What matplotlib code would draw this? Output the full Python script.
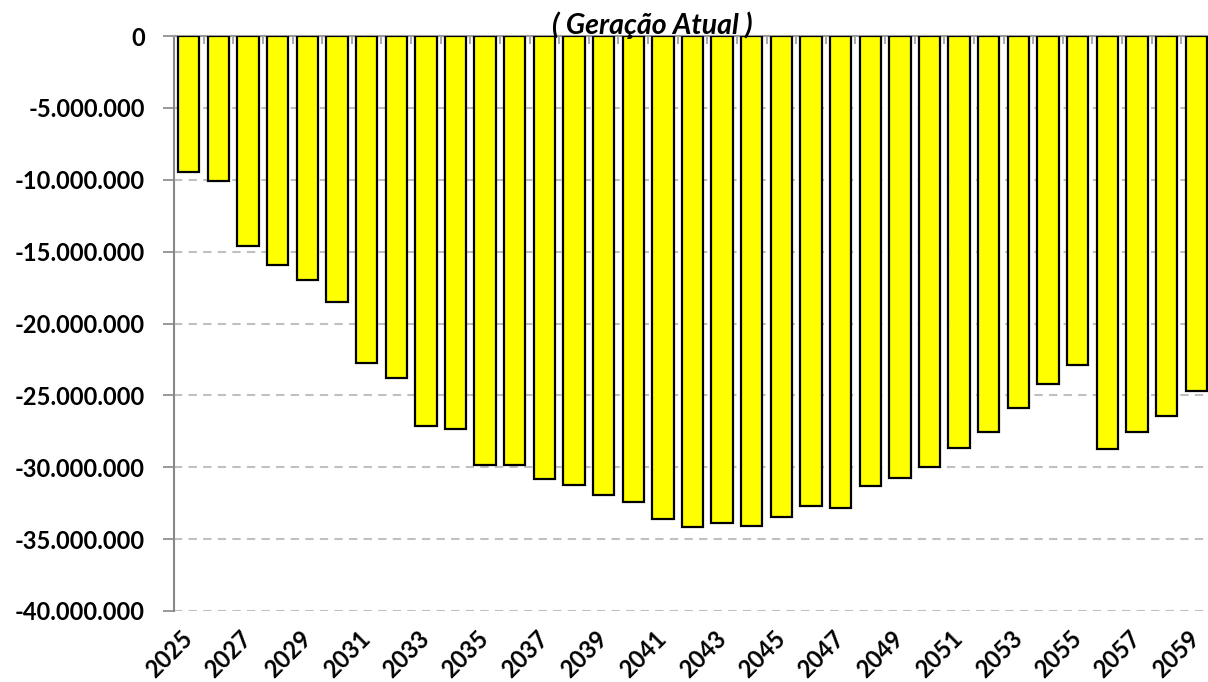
import matplotlib
matplotlib.use("Agg")
import matplotlib.pyplot as plt
from matplotlib.ticker import FuncFormatter, MultipleLocator, FixedLocator
import numpy as np

years = list(range(2025, 2060))
values = [-9.46e6, -10.06e6, -14.61e6, -15.95e6, -16.94e6, -18.47e6, -22.78e6,
          -23.82e6, -27.14e6, -27.32e6, -29.83e6, -29.83e6, -30.84e6, -31.24e6,
          -31.93e6, -32.44e6, -33.60e6, -34.13e6, -33.90e6, -34.09e6, -33.44e6,
          -32.67e6, -32.86e6, -31.31e6, -30.75e6, -29.96e6, -28.67e6, -27.55e6,
          -25.86e6, -24.22e6, -22.92e6, -28.74e6, -27.55e6, -26.42e6, -24.70e6]
title = "( Geração Atual )"

plt.rcParams['font.family'] = ['Lato', 'DejaVu Sans']

fig = plt.figure(figsize=(12.08, 6.82), dpi=100)
ax = fig.add_axes([174/1208, 1 - 611/682, (1211 - 174)/1208, (611 - 36)/682])

x = np.arange(len(years))
ax.bar(x, values, width=0.72, color='#FFFF00', edgecolor='black', linewidth=1.6, zorder=3)

ax.set_xlim(-0.5, len(years) - 0.5)
ax.set_ylim(-40e6, 0)

ax.yaxis.set_major_locator(MultipleLocator(5e6))
def fmt(v, pos):
    s = f"{abs(int(round(v))):,}".replace(",", ".")
    return ("-" if v < 0 else "") + s
ax.yaxis.set_major_formatter(FuncFormatter(fmt))
ax.tick_params(axis='y', labelsize=17, length=8, color='#888888', width=1.2, pad=13)
for lab in ax.get_yticklabels():
    lab.set_fontweight('bold')

ax.grid(axis='y', color='#C0C0C0', linestyle=(0, (4, 3)), linewidth=1.5, zorder=0)

ax.set_xticks(x[::2])
ax.set_xticklabels([str(y) for y in years[::2]], rotation=45, ha='right', va='center',
                   rotation_mode='anchor', fontsize=17, fontweight='bold')
ax.tick_params(axis='x', length=0, pad=17)

# category boundary ticks on the zero line
ax.xaxis.set_minor_locator(FixedLocator(np.arange(-0.5, len(years), 1)))
ax.tick_params(axis='x', which='minor', direction='in', length=6, color='#999999',
               width=1.2, top=True, bottom=False)

for s in ['right', 'bottom']:
    ax.spines[s].set_visible(False)
ax.spines['top'].set_color('#999999')
ax.spines['top'].set_linewidth(1.5)
ax.spines['left'].set_color('#888888')
ax.spines['left'].set_linewidth(1.5)

fig.text(652/1208, 1 - 25/682, title, ha='center', va='center', fontsize=20.5,
         fontweight='bold', fontstyle='italic', zorder=5)

fig.savefig("out.png", dpi=100)
